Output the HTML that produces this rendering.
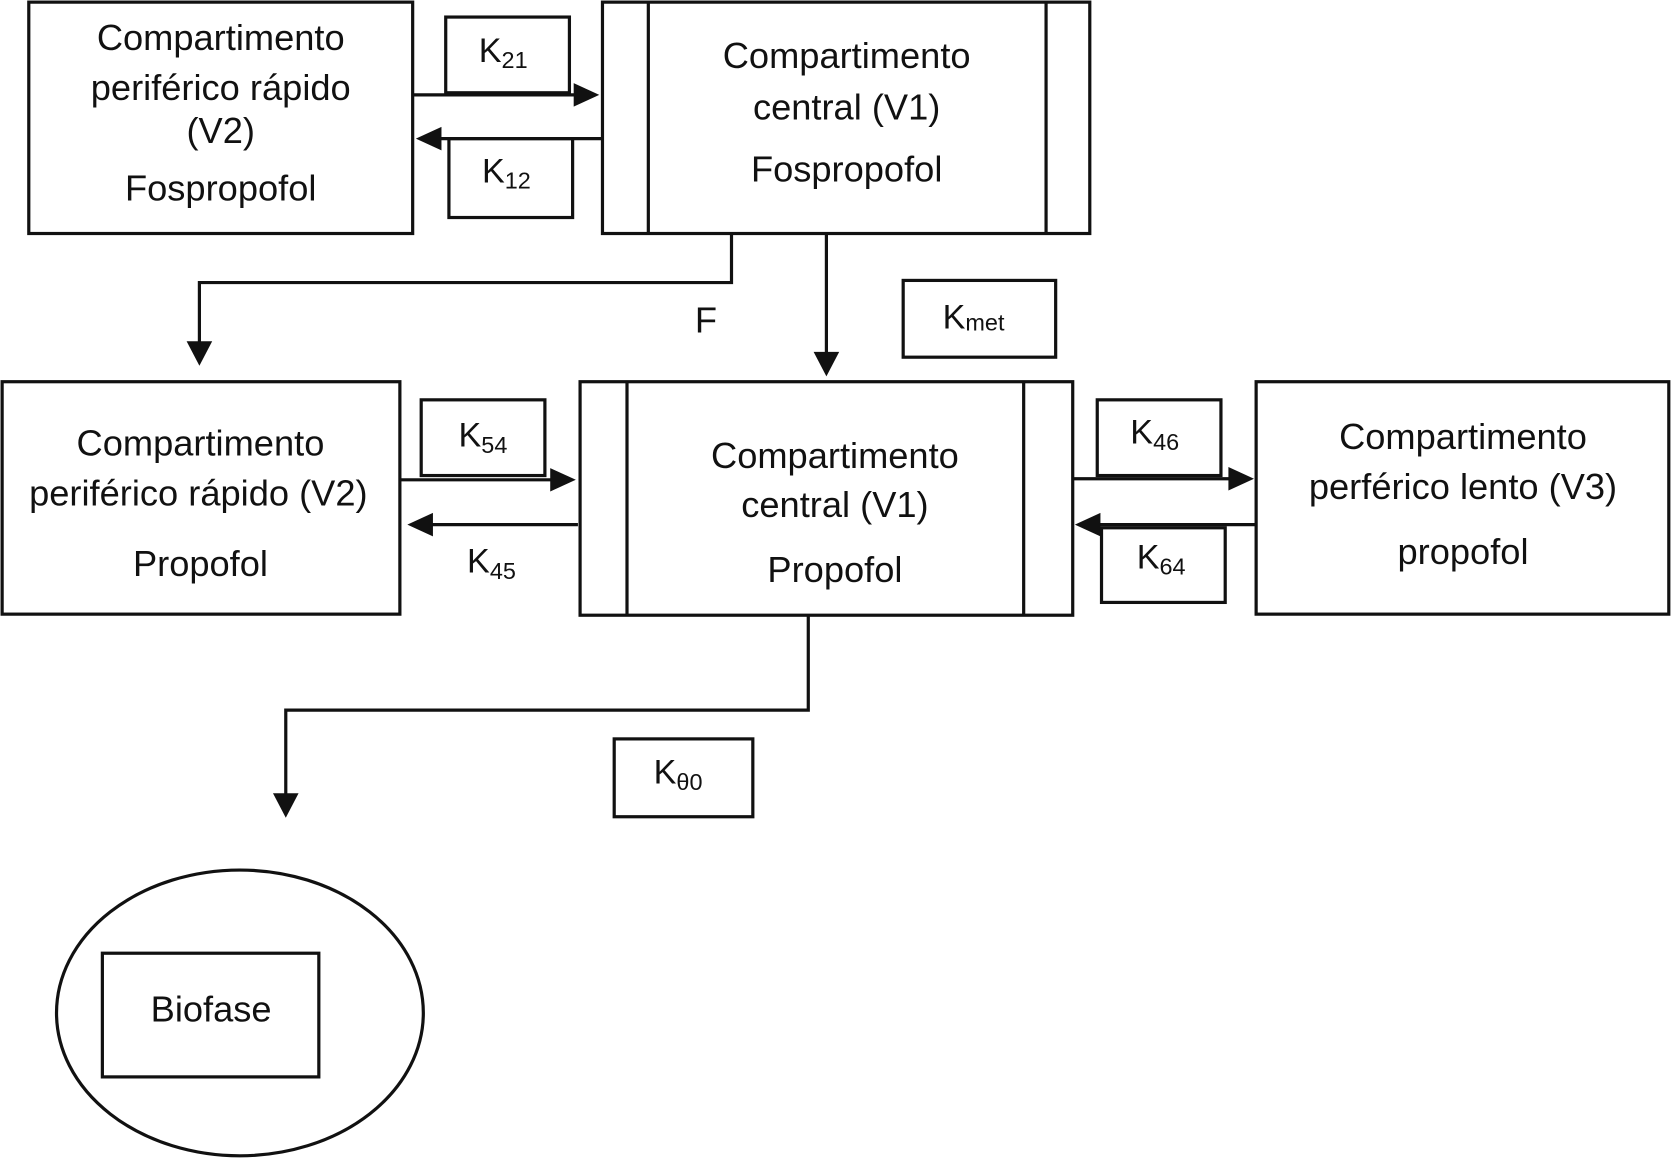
<!DOCTYPE html>
<html><head><meta charset="utf-8"><style>
html,body{margin:0;padding:0;background:#fff;}
svg{display:block;}
text{font-family:"Liberation Sans",sans-serif;fill:#111;}
</style></head><body>
<svg width="1672" height="1159" viewBox="0 0 1568 1087" preserveAspectRatio="none" xmlns="http://www.w3.org/2000/svg">
<defs>
<marker id="a" markerWidth="10" markerHeight="10" refX="9" refY="5" orient="auto" markerUnits="userSpaceOnUse" viewBox="0 0 10 10">
</marker>
</defs>
<g fill="none" stroke="#111" stroke-width="3">
<rect x="27" y="2" width="360" height="217"/>
<rect x="418" y="16" width="116" height="71"/>
<rect x="421" y="130" width="116" height="74"/>
<rect x="565" y="2" width="457" height="217"/>
<line x1="608" y1="2" x2="608" y2="219"/><line x1="981" y1="2" x2="981" y2="219"/>
<rect x="847" y="263" width="143" height="72"/>
<rect x="2" y="358" width="373" height="218"/>
<rect x="395" y="375" width="116" height="71"/>
<rect x="544" y="358" width="462" height="219"/>
<line x1="588" y1="358" x2="588" y2="577"/><line x1="960" y1="358" x2="960" y2="577"/>
<rect x="1029" y="375" width="116" height="71"/>
<rect x="1033" y="495" width="116" height="70"/>
<rect x="1178" y="358" width="387" height="218"/>
<rect x="576" y="693" width="130" height="73"/>
<ellipse cx="225" cy="950" rx="172" ry="134"/>
<rect x="96" y="894" width="203" height="116"/>
<!-- lines -->
<line x1="387" y1="89" x2="540" y2="89"/>
<line x1="565" y1="130" x2="412" y2="130"/>
<polyline points="686,219 686,265 187,265 187,322"/>
<line x1="775" y1="219" x2="775" y2="332"/>
<line x1="375" y1="450" x2="518" y2="450"/>
<line x1="542" y1="492" x2="404" y2="492"/>
<line x1="1006" y1="449" x2="1154" y2="449"/>
<line x1="1178" y1="492" x2="1030" y2="492"/>
<polyline points="758,577 758,666 268,666 268,746"/>
</g>
<g fill="#111">
<polygon points="562,89 538,78 538,100"/>
<polygon points="390,130 414,119 414,141"/>
<polygon points="187,343 175,320 199,320"/>
<polygon points="775,353 763,330 787,330"/>
<polygon points="540,450 516,439 516,461"/>
<polygon points="382,492 406,481 406,503"/>
<polygon points="1176,449 1152,438 1152,460"/>
<polygon points="1008,492 1032,481 1032,503"/>
<polygon points="268,767 256,744 280,744"/>
</g>
<g font-size="34" text-anchor="middle">
<text x="207" y="47">Compartimento</text>
<text x="207" y="94">periférico rápido</text>
<text x="207" y="134">(V2)</text>
<text x="207" y="188">Fospropofol</text>
<text x="794" y="64">Compartimento</text>
<text x="794" y="112">central (V1)</text>
<text x="794" y="170">Fospropofol</text>
<text x="662" y="312">F</text>
<text x="188" y="427">Compartimento</text>
<text x="186" y="474">periférico rápido (V2)</text>
<text x="188" y="540">Propofol</text>
<text x="783" y="439">Compartimento</text>
<text x="783" y="485">central (V1)</text>
<text x="783" y="546">Propofol</text>
<text x="1372" y="421">Compartimento</text>
<text x="1372" y="468">perférico lento (V3)</text>
<text x="1372" y="529">propofol</text>
<text x="198" y="958">Biofase</text>
</g>
<g font-size="32">
<text x="449" y="58">K<tspan font-size="22" dy="6">21</tspan></text>
<text x="452" y="171">K<tspan font-size="22" dy="6">12</tspan></text>
<text x="884" y="308">K<tspan font-size="22" dy="2">met</tspan></text>
<text x="430" y="419">K<tspan font-size="22" dy="6">54</tspan></text>
<text x="438" y="537">K<tspan font-size="22" dy="6">45</tspan></text>
<text x="1060" y="416">K<tspan font-size="22" dy="6">46</tspan></text>
<text x="1066" y="533">K<tspan font-size="22" dy="6">64</tspan></text>
<text x="613" y="735">K<tspan font-size="22" dy="6">θ0</tspan></text>
</g>
</svg>
</body></html>
